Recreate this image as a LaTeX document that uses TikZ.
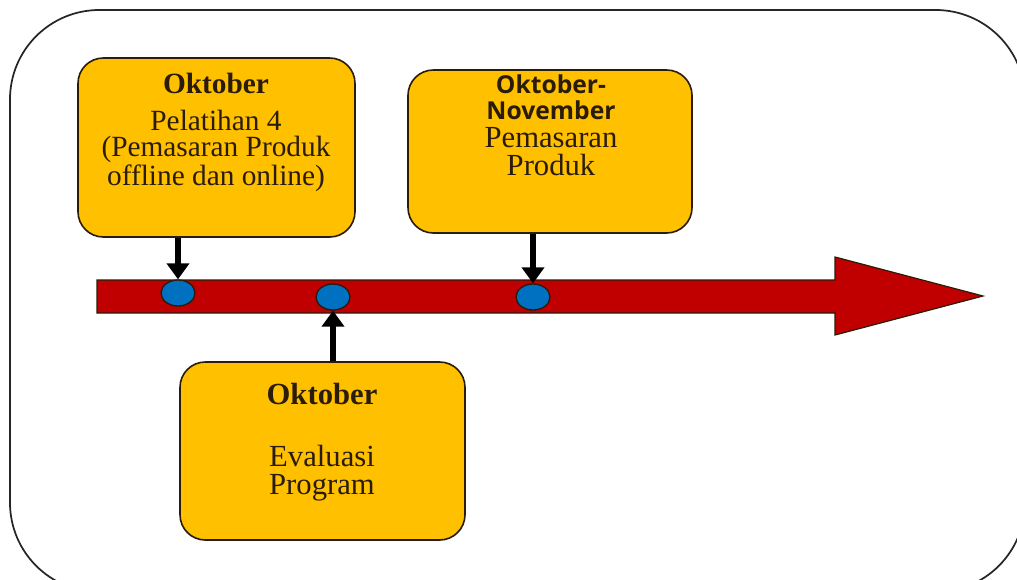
\documentclass[tikz,border=0pt]{standalone}
\usepackage{fontspec}
\setmainfont{Liberation Serif}
\newfontfamily\headsans{Open Sans}
\usetikzlibrary{arrows.meta,positioning,shapes.geometric}
\definecolor{boxgold}{HTML}{FFC000}
\definecolor{barred}{HTML}{C00000}
\definecolor{dotblue}{HTML}{0070C0}
\definecolor{inkdark}{HTML}{2A1C08}
\newcommand{\hdsans}{\headsans\bfseries\fontsize{18.5}{19.5}\selectfont}
\newcommand{\bigserif}{\rmfamily\mdseries\fontsize{23}{20.5}\selectfont}

\begin{document}
\begin{tikzpicture}[
    x=0.75pt, y=-0.75pt,
    event/.style={rounded corners=19pt, draw=inkdark, line width=1.2pt, fill=boxgold},
    eventtext/.style={anchor=north, inner sep=0pt, align=center, text=inkdark},
    stopdot/.style={ellipse, draw=inkdark, line width=1pt, fill=dotblue, minimum width=25.5pt, minimum height=19.5pt, inner sep=0pt},
    pointer/.style={-{Triangle[length=12pt,width=16.5pt]}, line width=4.5pt, draw=black}
  ]
    \clip (0,0) rectangle (1017,579);
    % frame
    \draw[rounded corners=67pt, line width=1.3pt, draw=black!85] (10,10) rectangle (1025,592);

    % event boxes
    \node[event, minimum width=207.75pt, minimum height=134.25pt] (okt1) at (216.5,147.5) {};
    \node[event, minimum width=213pt, minimum height=122.25pt] (okt2) at (550,151.5) {};
    \node[event, minimum width=213.75pt, minimum height=133.5pt] (okt3) at (322.5,451) {};

    \node[eventtext, font=\fontsize{22}{20}\selectfont] (txt1) at (216,73)
      {\textbf{Oktober}\\[7.5pt]Pelatihan 4\\(Pemasaran Produk\\offline dan online)};
    \node[eventtext, font=\fontsize{22}{19.5}\selectfont] (txt2) at (551,74)
      {\hdsans Oktober-\\\hdsans November\\[2pt]\bigserif Pemasaran\\[1.5pt]\bigserif Produk};
    \node[eventtext, font=\fontsize{23}{21}\selectfont] (txt3) at (322,383)
      {\textbf{Oktober}\\[25.5pt]Evaluasi\\Program};

    % timeline
    \draw[draw=inkdark, line width=0.9pt, fill=barred]
      (97,280) -- (835,280) -- (835,257) -- (983,296) -- (835,335) -- (835,313) -- (97,313) -- cycle;

    \node[stopdot] (e1) at (178,293) {};
    \node[stopdot] (e2) at (333,297) {};
    \node[stopdot] (e3) at (533,297) {};

    \draw[pointer] (e1 |- okt1.south) -- (e1.north);
    \draw[pointer] (e3 |- okt2.south) -- (e3.north);
    \draw[pointer] (e2 |- okt3.north) -- (e2.south);
  \end{tikzpicture}
\end{document}
